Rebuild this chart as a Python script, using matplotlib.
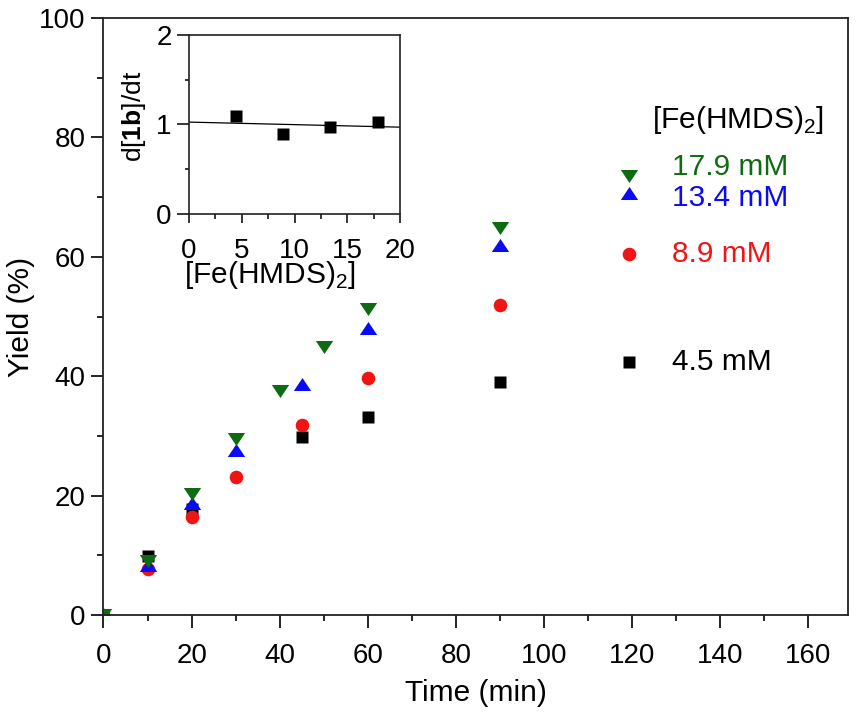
import matplotlib
matplotlib.use("Agg")
import matplotlib.pyplot as plt
import numpy as np
from matplotlib.ticker import MultipleLocator

plt.rcParams['font.family'] = ['Liberation Sans', 'DejaVu Sans']
plt.rcParams['mathtext.fontset'] = 'custom'
plt.rcParams['mathtext.rm'] = 'Liberation Sans'
plt.rcParams['mathtext.bf'] = 'Liberation Sans:bold'

# ---- data ----
t_45 = [0, 10, 20, 45, 60, 90]
y_45 = [0, 9.9, 17.8, 29.8, 33.2, 39.0]
t_89 = [0, 10, 20, 30, 45, 60, 90]
y_89 = [0, 7.7, 16.5, 23.1, 31.8, 39.7, 51.9]
t_134 = [0, 10, 20, 30, 45, 60, 90]
y_134 = [0, 8.4, 18.7, 27.6, 38.7, 48.0, 61.9]
t_179 = [0, 10, 20, 30, 40, 50, 60, 90]
y_179 = [0, 9.1, 20.3, 29.5, 37.6, 44.9, 51.3, 64.9]

conc = [4.5, 8.9, 13.4, 17.9]
rate = [1.095, 0.89, 0.97, 1.025]

labels = ['17.9 mM', '13.4 mM', '8.9 mM', '4.5 mM']

GREEN = '#0e6b12'
BLUE = '#0a0af5'
RED = '#f01414'
BLACK = '#000000'

FS_TICK = 20
FS_LAB = 21.5

up_tri = [(-1, -0.75), (1, -0.75), (0, 0.75), (-1, -0.75)]
dn_tri = [(-1, 0.75), (1, 0.75), (0, -0.75), (-1, 0.75)]

fig = plt.figure(figsize=(8.56, 7.21), dpi=100)
ax = fig.add_axes([0.1209, 0.147, 0.8697, 0.828])

ax.plot(t_45, y_45, ls='none', marker='s', ms=8.8, color=BLACK, mec='none')
ax.plot(t_89, y_89, ls='none', marker='o', ms=9.8, color=RED, mec='none')
ax.plot(t_134, y_134, ls='none', marker=up_tri, ms=12.5, color=BLUE, mec='none')
ax.plot(t_179, y_179, ls='none', marker=dn_tri, ms=12.5, color=GREEN, mec='none')

ax.set_xlim(0, 169)
ax.set_ylim(0, 100)
ax.xaxis.set_major_locator(MultipleLocator(20))
ax.xaxis.set_minor_locator(MultipleLocator(10))
ax.yaxis.set_major_locator(MultipleLocator(20))
ax.yaxis.set_minor_locator(MultipleLocator(10))
ax.tick_params(which='major', direction='out', length=9, width=1.2, labelsize=FS_TICK)
ax.tick_params(which='minor', direction='out', length=4.3, width=1.2)
ax.tick_params(axis='x', which='major', pad=11)
ax.tick_params(axis='y', which='major', pad=4)
for s in ax.spines.values():
    s.set_linewidth(1.3)
    s.set_color('#222222')
ax.set_xlabel('Time (min)', fontsize=FS_LAB, labelpad=7)
ax.set_ylabel('Yield (%)', fontsize=FS_LAB, labelpad=3)

# legend (manual)
ax.text(0.737, 0.829, '[Fe(HMDS)$_2$]', transform=ax.transAxes, fontsize=FS_LAB,
        ha='left', va='center')
mx = 0.706
ax.plot([mx], [0.735], transform=ax.transAxes, marker=dn_tri, ms=12.5, color=GREEN, mec='none', clip_on=False)
ax.plot([mx], [0.707], transform=ax.transAxes, marker=up_tri, ms=12.5, color=BLUE, mec='none', clip_on=False)
ax.plot([mx], [0.605], transform=ax.transAxes, marker='o', ms=9.8, color=RED, mec='none', clip_on=False)
ax.plot([mx], [0.424], transform=ax.transAxes, marker='s', ms=8.8, color=BLACK, mec='none', clip_on=False)
tx = 0.7636
ax.text(tx, 0.750, labels[0], transform=ax.transAxes, fontsize=FS_LAB, color=GREEN, ha='left', va='center')
ax.text(tx, 0.698, labels[1], transform=ax.transAxes, fontsize=FS_LAB, color=BLUE, ha='left', va='center')
ax.text(tx, 0.605, labels[2], transform=ax.transAxes, fontsize=FS_LAB, color=RED, ha='left', va='center')
ax.text(tx, 0.424, labels[3], transform=ax.transAxes, fontsize=FS_LAB, color=BLACK, ha='left', va='center')

# inset
ins = fig.add_axes([0.2208, 0.7032, 0.2465, 0.2483])
ins.plot(conc, rate, ls='none', marker='s', ms=8.8, color=BLACK, mec='none')
coef = np.polyfit(conc, rate, 1)
xx = np.array([0, 20])
ins.plot(xx, np.polyval(coef, xx), color=BLACK, lw=0.9)
ins.set_xlim(0, 20)
ins.set_ylim(0, 2)
ins.xaxis.set_major_locator(MultipleLocator(5))
ins.xaxis.set_minor_locator(MultipleLocator(2.5))
ins.yaxis.set_major_locator(MultipleLocator(1))
ins.yaxis.set_minor_locator(MultipleLocator(0.5))
ins.tick_params(which='major', direction='out', width=1.1, labelsize=FS_TICK)
ins.tick_params(which='minor', direction='out', width=1.1)
ins.tick_params(axis='x', which='major', length=6.3, pad=11)
ins.tick_params(axis='x', which='minor', length=3.5)
ins.tick_params(axis='y', which='major', length=8.5, pad=4)
ins.tick_params(axis='y', which='minor', length=3.2)
for s in ins.spines.values():
    s.set_linewidth(1.2)
    s.set_color('#222222')
ins.set_xlabel('[Fe(HMDS)$_2$]', fontsize=FS_LAB)
ins.xaxis.set_label_coords(0.384, -0.25)
ins.text(-0.26, 0.547, r'd[$\mathbf{1b}$]/dt', transform=ins.transAxes, fontsize=19,
         rotation=90, ha='center', va='center')

fig.savefig('out.png', dpi=100)
